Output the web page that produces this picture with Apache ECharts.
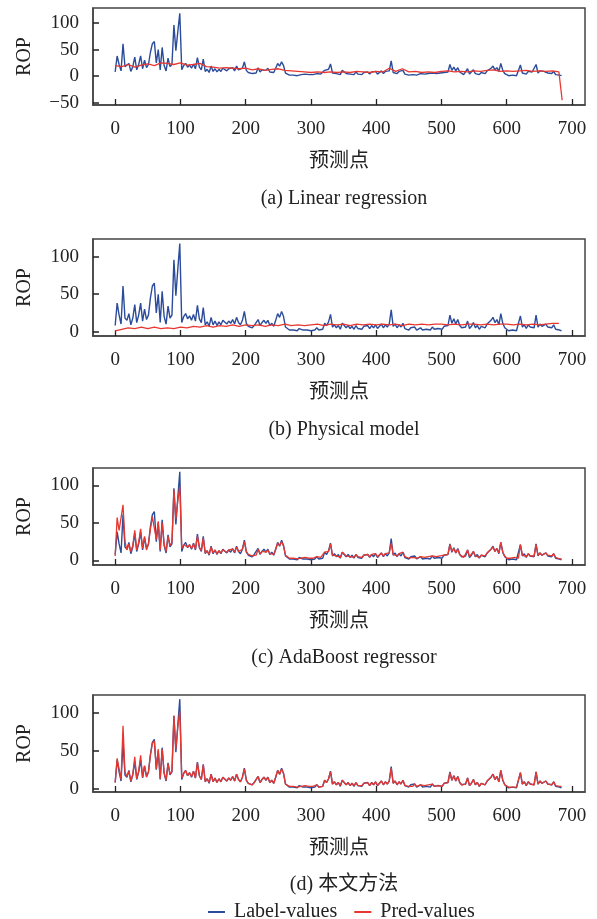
<!DOCTYPE html>
<html>
<head>
<meta charset="utf-8">
<title>ROP prediction</title>
<script src="https://cdn.jsdelivr.net/npm/echarts@6.0.0/dist/echarts.min.js"></script>
<style>
  html, body { margin: 0; padding: 0; background: #fff; }
  #chart { width: 597px; height: 919px; }
</style>
</head>
<body>
<div id="chart"></div>
<script>
// label / AdaBoost / 本文方法: one value every 3 points (x = 0, 3, ... 684)
const STEP = 3;
const labelValues = [
  8, 38, 22, 10, 61, 18, 15, 24, 9, 18,
  36, 12, 22, 38, 14, 30, 16, 22, 45, 61,
  65, 25, 50, 12, 54, 20, 10, 34, 18, 22,
  96, 48, 84, 118, 12, 20, 24, 17, 21, 15,
  23, 14, 35, 17, 12, 32, 9, 13, 7, 19,
  9, 14, 8, 13, 9, 15, 17, 10, 14, 11,
  16, 10, 19, 12, 9, 15, 27, 11, 7, 9,
  5, 8, 6, 16, 8, 12, 15, 11, 15, 8,
  11, 7, 15, 24, 19, 27, 20, 6, 4, 2,
  4, 2, 3, 1, 4, 3, 2, 4, 2, 3,
  1, 3, 2, 5, 2, 4, 3, 11, 8, 13,
  23, 6, 9, 5, 8, 3, 11, 12, 5, 8,
  4, 7, 3, 8, 4, 6, 3, 7, 5, 8,
  4, 8, 5, 9, 4, 7, 10, 5, 9, 6,
  10, 29, 7, 10, 5, 9, 6, 11, 4, 6,
  2, 5, 3, 6, 2, 4, 5, 2, 4, 3,
  5, 2, 6, 3, 5, 4, 6, 3, 7, 5,
  8, 22, 11, 17, 10, 16, 8, 5, 3, 6,
  14, 4, 7, 12, 5, 8, 3, 7, 9, 5,
  10, 8, 15, 19, 12, 16, 9, 24, 11, 5,
  3, 1, 3, 2, 4, 1, 3, 21, 6, 9,
  4, 9, 6, 8, 5, 22, 6, 10, 7, 9,
  10, 6, 8, 5, 9, 3, 1, 2, 1
];
const adaPred = [
  6, 57, 40, 42, 74, 25, 14, 22, 12, 20,
  40, 14, 24, 42, 16, 32, 14, 22, 42, 58,
  60, 28, 52, 14, 50, 22, 12, 32, 20, 24,
  94, 55, 80, 98, 16, 21, 23, 18, 21, 16,
  22, 15, 32, 18, 13, 30, 10, 13, 8, 18,
  10, 14, 9, 13, 10, 14, 16, 11, 14, 12,
  15, 11, 18, 12, 10, 15, 25, 12, 8, 9,
  6, 8, 7, 15, 9, 12, 14, 11, 14, 9,
  11, 8, 15, 23, 20, 25, 19, 7, 5, 3,
  4, 3, 3, 2, 4, 3, 3, 4, 3, 3,
  2, 3, 3, 5, 3, 4, 3, 11, 9, 12,
  22, 7, 9, 6, 8, 4, 11, 12, 6, 8,
  5, 7, 4, 8, 5, 6, 4, 7, 5, 8,
  5, 8, 6, 9, 5, 7, 10, 6, 9, 7,
  10, 23, 8, 10, 6, 9, 7, 11, 5, 6,
  3, 5, 4, 6, 3, 4, 5, 3, 4, 4,
  5, 3, 6, 4, 5, 4, 6, 4, 7, 5,
  8, 21, 12, 16, 10, 15, 8, 6, 4, 6,
  14, 5, 7, 12, 6, 8, 4, 7, 9, 6,
  10, 9, 15, 18, 12, 16, 10, 24, 11, 6,
  3, 2, 3, 3, 4, 2, 3, 21, 7, 9,
  5, 9, 6, 8, 6, 21, 7, 10, 7, 9,
  10, 7, 8, 6, 9, 4, 2, 2, 2
];
const oursPred = [
  8, 40, 38, 12, 83, 22, 16, 23, 10, 19,
  42, 13, 23, 44, 15, 30, 15, 22, 44, 60,
  63, 26, 52, 13, 52, 21, 11, 33, 19, 23,
  96, 52, 82, 102, 14, 20, 24, 17, 21, 16,
  23, 14, 34, 17, 12, 31, 9, 13, 8, 19,
  9, 14, 8, 13, 9, 15, 17, 10, 14, 11,
  16, 10, 19, 12, 9, 15, 26, 11, 7, 9,
  5, 8, 6, 16, 8, 12, 15, 11, 15, 8,
  11, 7, 15, 24, 19, 26, 20, 6, 5, 3,
  4, 3, 3, 2, 4, 3, 2, 4, 3, 3,
  2, 3, 2, 5, 2, 4, 3, 11, 8, 13,
  22, 6, 9, 5, 8, 4, 11, 12, 5, 8,
  4, 7, 4, 8, 4, 6, 4, 7, 5, 8,
  4, 8, 5, 9, 4, 7, 10, 5, 9, 6,
  10, 27, 7, 10, 5, 9, 6, 11, 4, 6,
  3, 5, 3, 6, 3, 4, 5, 3, 4, 3,
  5, 3, 6, 3, 5, 4, 6, 3, 7, 5,
  8, 21, 11, 17, 10, 16, 8, 5, 4, 6,
  14, 4, 7, 12, 5, 8, 3, 7, 9, 5,
  10, 8, 15, 19, 12, 16, 9, 24, 11, 5,
  3, 2, 3, 2, 4, 2, 3, 21, 6, 9,
  4, 9, 6, 8, 5, 22, 6, 10, 7, 9,
  10, 6, 8, 5, 9, 4, 2, 3, 3
];
// linear regression / physical model: one value every 10 points (x = 0 ... 680)
const STEP_SMOOTH = 10;
const linearPred = [
  20, 18, 22, 17, 21, 23, 20, 25, 24, 22,
  25, 21, 22, 24, 18, 17, 15, 16, 15, 14,
  15, 12, 14, 11, 13, 14, 11, 10, 9, 8,
  7, 8, 7, 8, 7, 8, 7, 9, 8, 7,
  9, 8, 15, 9, 14, 8, 9, 7, 8, 7,
  9, 10, 8, 9, 8, 10, 9, 11, 12, 9,
  10, 9, 10, 11, 9, 10, 9, 10, 8
];
const linearTail = [[682, 6], [685, -45]];
const physicalPred = [
  1, 3, 5, 4, 6, 4, 6, 4, 5, 4,
  6, 5, 7, 6, 8, 6, 8, 7, 9, 7,
  9, 8, 9, 7, 9, 8, 10, 8, 9, 8,
  9, 10, 8, 10, 9, 10, 8, 10, 9, 10,
  9, 10, 9, 10, 8, 10, 9, 10, 9, 10,
  10, 9, 10, 9, 10, 10, 9, 10, 9, 10,
  10, 9, 10, 9, 10, 9, 10, 11, 11
];

const xTicks = [0, 100, 200, 300, 400, 500, 600, 700];
const captions = ['(a) Linear regression', '(b) Physical model', '(c) AdaBoost regressor', '(d) 本文方法'];
// [min, max, ticks] per panel
const yRanges = [
  [-54, 128, [-50, 0, 50, 100]],
  [-6, 124, [0, 50, 100]],
  [-6, 123, [0, 50, 100]],
  [-4.5, 123.5, [0, 50, 100]]
];

const FONT = '"Liberation Serif", "Times New Roman", "Noto Sans CJK SC", serif';
const BLUE = '#2b4c9b';
const RED = '#e8372f';
const TXT = '#222';
const EDGE = '#444';

const toPairs = (arr, step) => arr.map((v, i) => [i * step, v]);

const labelData = toPairs(labelValues, STEP);
const predData = [
  toPairs(linearPred, STEP_SMOOTH).concat(linearTail),
  toPairs(physicalPred, STEP_SMOOTH),
  toPairs(adaPred, STEP),
  toPairs(oursPred, STEP)
];

const gridTops = [8, 239, 468, 695];
const captionTops = [184, 415, 643, 870];

const grid = gridTops.map(t => ({
  left: 93, right: 12, top: t, height: 97,
  show: true, borderColor: EDGE, borderWidth: 1.5
}));

const xAxis = gridTops.map((t, i) => ({
  type: 'value', gridIndex: i, min: -34, max: 720,
  name: '预测点', nameLocation: 'middle', nameGap: 47,
  nameTextStyle: { fontFamily: FONT, fontSize: 20, color: TXT },
  axisLine: { show: true, onZero: false, lineStyle: { color: EDGE, width: 1.5 } },
  axisTick: { show: true, inside: true, length: 6, customValues: xTicks, lineStyle: { color: '#222', width: 1.3 } },
  axisLabel: { customValues: xTicks, margin: 15, fontFamily: FONT, fontSize: 19, color: TXT },
  splitLine: { show: false }
}));

const yAxis = yRanges.map((r, i) => ({
  type: 'value', gridIndex: i, min: r[0], max: r[1],
  name: 'ROP', nameLocation: 'middle', nameGap: 58,
  nameTextStyle: { fontFamily: FONT, fontSize: 20, color: TXT },
  axisLine: { show: true, onZero: false, lineStyle: { color: EDGE, width: 1.5 } },
  axisTick: { show: true, inside: true, length: 6, customValues: r[2], lineStyle: { color: '#222', width: 1.5 } },
  axisLabel: {
    customValues: r[2], margin: 14, fontFamily: FONT, fontSize: 19, color: TXT,
    formatter: v => String(v).replace('-', '\u2212')
  },
  splitLine: { show: false }
}));

const series = [];
predData.forEach((d, i) => {
  series.push({
    name: 'Label-values', type: 'line', xAxisIndex: i, yAxisIndex: i,
    data: labelData, showSymbol: false,
    lineStyle: { color: BLUE, width: 1.4 }, itemStyle: { color: BLUE }
  });
  series.push({
    name: 'Pred-values', type: 'line', xAxisIndex: i, yAxisIndex: i,
    data: d, showSymbol: false,
    lineStyle: { color: RED, width: 1.3 }, itemStyle: { color: RED }
  });
});

const option = {
  animation: false,
  backgroundColor: '#fff',
  title: captions.map((c, i) => ({
    text: c, left: 339, top: captionTops[i], textAlign: 'center',
    textStyle: { fontFamily: FONT, fontSize: 20, fontWeight: 'normal', color: TXT }
  })),
  legend: {
    data: ['Label-values', 'Pred-values'],
    left: 203, top: 897, icon: 'rect', itemWidth: 17, itemHeight: 2, itemGap: 17,
    textStyle: { fontFamily: FONT, fontSize: 20, color: TXT, padding: [0, 0, 0, 4] }
  },
  grid, xAxis, yAxis, series
};

const chart = echarts.init(document.getElementById('chart'));
chart.setOption(option);
</script>
</body>
</html>
